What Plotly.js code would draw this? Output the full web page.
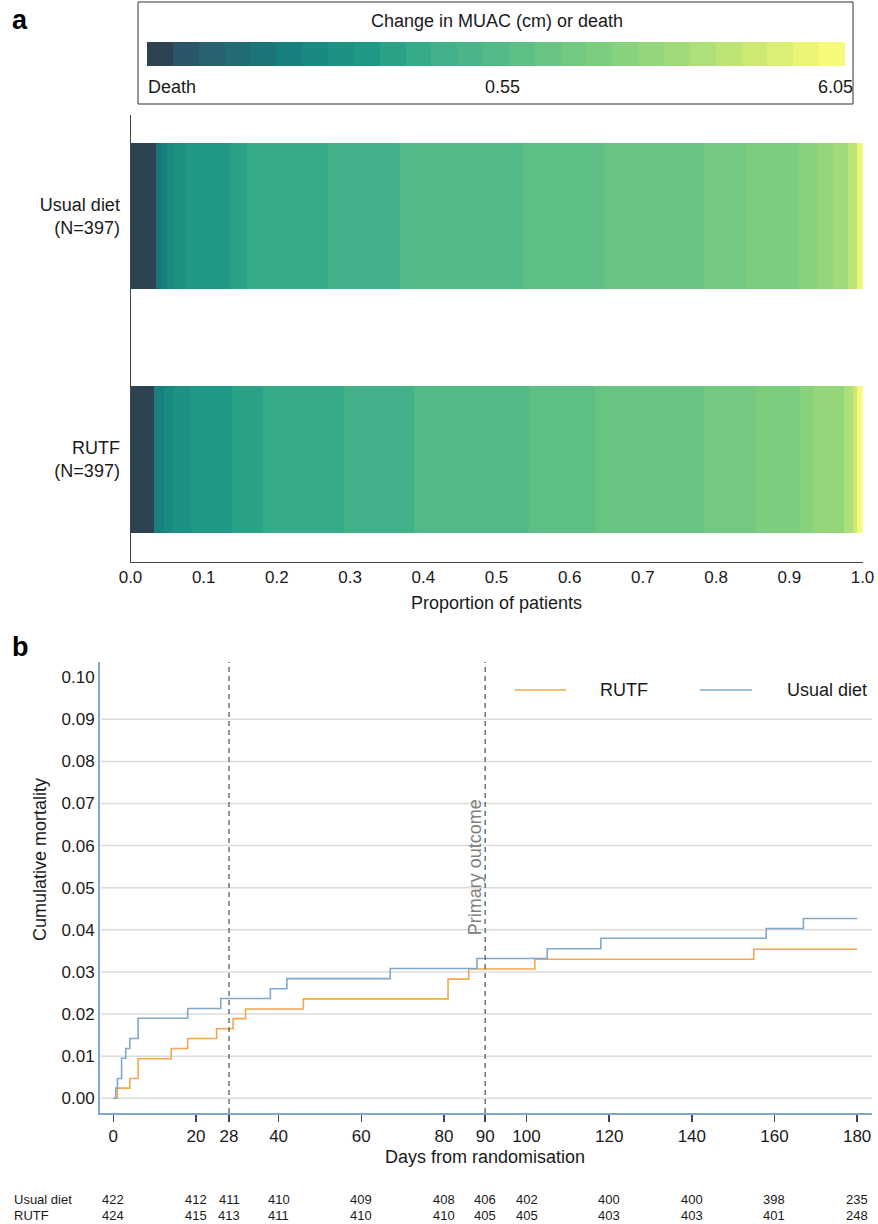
<!DOCTYPE html>
<html>
<head>
<meta charset="utf-8">
<script src="https://cdn.plot.ly/plotly-3.0.1.min.js"></script>
<style>html,body{margin:0;padding:0;background:#fff;}#chart{width:878px;height:1224px;}</style>
</head>
<body>
<div id="chart"></div>
<script>
// ---------- Panel a data ----------
const palette = ['#2d4352','#2b5667','#28626e','#226b73','#1b7478','#177f7d','#198a80','#1c9283','#209a87','#2aa288','#36ab89','#42b18a','#4bb589','#53b987','#5dbf85','#68c483','#73c981','#7dcd7f','#89d27d','#95d67b','#a1da79','#afdf77','#bde475','#cde974','#ddee75','#ebf476','#f6fa78'];
const levelLabels = ['Death','0.55','6.05'];
const groups = ['RUTF<br>(N=397)', 'Usual diet<br>(N=397)'];
const groupN = [397, 397];
const usualCounts = [14,0,0,0,3,3,4,6,24,9,44,39,0,67,44,54,23,28,11,8,8,0,5,0,0,3,0];
const rutfCounts  = [13,0,0,0,0,5,5,10,22,17,44,38,0,62,36,59,28,24,7,17,0,5,0,2,0,0,3];
const xTicksA = [0,0.1,0.2,0.3,0.4,0.5,0.6,0.7,0.8,0.9,1.0];

// ---------- Panel b data ----------
const seriesNames = ['RUTF', 'Usual diet'];
const usualDays = [0,0.6,1,2,3,4,6,18,26,38,42,67,88,105,118,158,167,180];
const usualCum  = [0,0.0024,0.0047,0.0095,0.0118,0.0142,0.019,0.0213,0.0237,0.026,0.0284,0.0308,0.0332,0.0355,0.038,0.0403,0.0427,0.0427];
const rutfDays  = [0,1,4,6,14,18,25,29,32,46,81,86,102,155,180];
const rutfCum   = [0,0.0024,0.0047,0.0094,0.0118,0.0142,0.0165,0.0189,0.0212,0.0236,0.0283,0.0307,0.033,0.0354,0.0354];
const xTicksB = [0,20,28,40,60,80,90,100,120,140,160,180];
const yTicksB = [0,0.01,0.02,0.03,0.04,0.05,0.06,0.07,0.08,0.09,0.10];
const gridB = [0,0.01,0.02,0.03,0.04,0.05,0.06,0.07,0.08,0.09];
const markerDays = [28, 90];
const riskDays = [0,20,28,40,60,80,90,100,120,140,160,180];
const usualRisk = [422,412,411,410,409,408,406,402,400,400,398,235];
const rutfRisk  = [424,415,413,411,410,410,405,405,403,403,401,248];

// ---------- helpers ----------
const W = 878, H = 1224;
const px = x => x / W;
const py = y => 1 - y / H;
const FONT = 'Liberation Sans, Arial, sans-serif';
const TXT = '#1a1a1a';
const ORANGE = '#f4a84e', BLUE = '#7fa8cb';

const traces = [];
for (let i = 0; i < palette.length; i++) {
  traces.push({
    type: 'bar', orientation: 'h', xaxis: 'x', yaxis: 'y',
    y: groups,
    x: [rutfCounts[i] / groupN[0], usualCounts[i] / groupN[1]],
    marker: {color: palette[i], line: {width: 0}},
    width: 0.6, showlegend: false, hoverinfo: 'skip'
  });
}
traces.push({
  type: 'bar', xaxis: 'x3', yaxis: 'y3',
  x: palette.map((c, i) => i), y: palette.map(() => 1),
  width: 1, marker: {color: palette, line: {width: 0}},
  showlegend: false, hoverinfo: 'skip'
});
traces.push({
  type: 'scatter', mode: 'lines', xaxis: 'x2', yaxis: 'y2', name: seriesNames[0], showlegend: false,
  x: rutfDays, y: rutfCum, line: {shape: 'hv', color: ORANGE, width: 1.6}
});
traces.push({
  type: 'scatter', mode: 'lines', xaxis: 'x2', yaxis: 'y2', name: seriesNames[1], showlegend: false,
  x: usualDays, y: usualCum, line: {shape: 'hv', color: BLUE, width: 1.6}
});

const shapes = [];
shapes.push({type: 'rect', xref: 'paper', yref: 'paper', x0: px(138), x1: px(853), y0: py(104), y1: py(2), line: {color: '#333', width: 1}});
gridB.forEach(v => shapes.push({type: 'line', xref: 'paper', yref: 'y2', x0: px(101), x1: px(872), y0: v, y1: v, line: {color: '#dcdcdc', width: 1.5}, layer: 'below'}));
markerDays.forEach(d => shapes.push({type: 'line', xref: 'x2', yref: 'paper', x0: d, x1: d, y0: py(1113), y1: py(662), line: {color: '#5d7d6d', width: 1.5, dash: '5px,4px'}}));
shapes.push({type: 'line', xref: 'paper', yref: 'paper', x0: px(515), x1: px(566), y0: py(690), y1: py(690), line: {color: ORANGE, width: 1.6}});
shapes.push({type: 'line', xref: 'paper', yref: 'paper', x0: px(700), x1: px(752), y0: py(690), y1: py(690), line: {color: BLUE, width: 1.6}});

const annotations = [];
const ann = (text, x, y, opts) => annotations.push(Object.assign({text, xref: 'paper', yref: 'paper', x: px(x), y: py(y), xanchor: 'center', yanchor: 'middle', showarrow: false, font: {family: FONT, size: 18, color: TXT}}, opts || {}));
ann('<b>a</b>', 10, 3, {xanchor: 'left', yanchor: 'top', font: {family: FONT, size: 27, color: '#000'}});
ann('<b>b</b>', 10, 630, {xanchor: 'left', yanchor: 'top', font: {family: FONT, size: 27, color: '#000'}});
ann('Change in MUAC (cm) or death', 497, 21);
ann(levelLabels[0], 146, 87, {xanchor: 'left'});
ann(levelLabels[1], 502, 87);
ann(levelLabels[2], 855, 87, {xanchor: 'right'});
ann('Proportion of patients', 496, 603);
ann('Days from randomisation', 485, 1157);
ann('Cumulative mortality', 40, 860, {textangle: -90});
ann(seriesNames[0], 598, 690, {xanchor: 'left'});
ann(seriesNames[1], 785, 690, {xanchor: 'left'});
annotations.push({text: 'Primary outcome', xref: 'x2', yref: 'paper', x: 90, y: py(867), xanchor: 'right', yanchor: 'middle', xshift: 2, textangle: -90, showarrow: false, font: {family: FONT, size: 18, color: '#808080'}});
ann('Usual diet', 12, 1199, {xanchor: 'left', font: {family: FONT, size: 13, color: TXT}});
ann('RUTF', 12, 1215, {xanchor: 'left', font: {family: FONT, size: 13, color: TXT}});
riskDays.forEach((d, i) => {
  annotations.push({text: String(usualRisk[i]), xref: 'x2', yref: 'paper', x: d, y: py(1199), xanchor: 'center', yanchor: 'middle', showarrow: false, font: {family: FONT, size: 13, color: TXT}});
  annotations.push({text: String(rutfRisk[i]), xref: 'x2', yref: 'paper', x: d, y: py(1215), xanchor: 'center', yanchor: 'middle', showarrow: false, font: {family: FONT, size: 13, color: TXT}});
});

const layout = {
  width: W, height: H,
  margin: {l: 0, r: 0, t: 0, b: 0, pad: 0},
  paper_bgcolor: '#fff', plot_bgcolor: 'rgba(0,0,0,0)',
  font: {family: FONT, color: TXT, size: 17},
  barmode: 'stack', bargap: 0,
  showlegend: false,
  xaxis: {domain: [px(130.5), px(862.5)], range: [0, 1], anchor: 'y', tickvals: xTicksA, ticktext: xTicksA.map(v => v.toFixed(1)), ticks: '', showline: true, linecolor: '#444', linewidth: 1, showgrid: false, zeroline: false, tickfont: {size: 17}, fixedrange: true},
  yaxis: {domain: [py(562), py(115)], range: [-0.421, 1.415], anchor: 'x', type: 'category', categoryorder: 'array', categoryarray: groups, ticks: '', ticklabelstandoff: 6, showline: true, linecolor: '#444', linewidth: 1, showgrid: false, zeroline: false, tickfont: {size: 18}, fixedrange: true},
  xaxis2: {domain: [px(100), px(872)], range: [-3.22, 183.6], anchor: 'y2', tickvals: xTicksB, ticks: 'outside', ticklen: 7, tickwidth: 1.5, tickcolor: '#34466e', showline: true, linecolor: BLUE, linewidth: 2, showgrid: false, zeroline: false, tickfont: {size: 17}},
  yaxis2: {domain: [py(1113), py(662)], range: [-0.0035, 0.1036], anchor: 'x2', tickvals: yTicksB, ticktext: yTicksB.map(v => v.toFixed(2)), ticks: '', showline: true, linecolor: BLUE, linewidth: 2, showgrid: false, zeroline: false, tickfont: {size: 17}},
  xaxis3: {domain: [px(147), px(845)], range: [-0.5, 26.5], anchor: 'y3', visible: false, fixedrange: true},
  yaxis3: {domain: [py(66), py(42)], range: [0, 1], anchor: 'x3', visible: false, fixedrange: true},
  shapes: shapes,
  annotations: annotations
};

Plotly.newPlot('chart', traces, layout, {displayModeBar: false, staticPlot: true});
</script>
</body>
</html>
